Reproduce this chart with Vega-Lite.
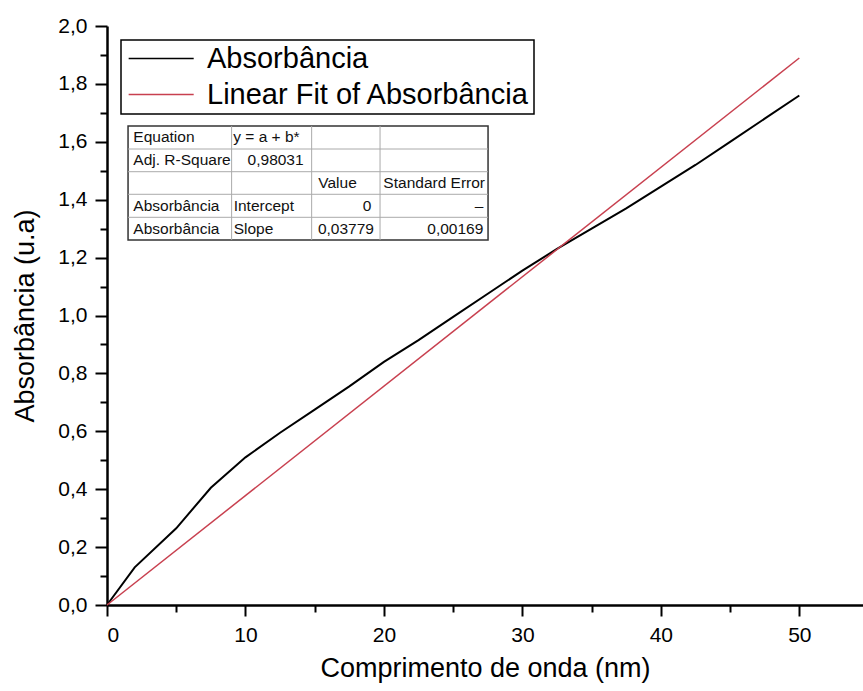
{
  "$schema": "https://vega.github.io/schema/vega-lite/v6.json",
  "width": 756,
  "height": 579,
  "autosize": {"type": "none"},
  "padding": {"left": 107, "top": 26, "right": 0, "bottom": 86},
  "background": "white",
  "config": {
    "view": {"stroke": null},
    "font": "Liberation Sans",
    "text": {"font": "Liberation Sans"},
    "locale": {"number": {"decimal": ",", "thousands": ".", "grouping": [3], "currency": ["", ""]}},
    "axis": {"grid": false, "domainColor": "black", "tickColor": "black", "labelColor": "black", "titleColor": "black", "labelFont": "Liberation Sans", "titleFont": "Liberation Sans", "titleFontWeight": "normal"},
    "legend": {"strokeWidth": 1.5, "labelFont": "Liberation Sans"}
  },
  "resolve": {"axis": {"x": "independent", "y": "independent"}},
  "layer": [
    {
      "data": {"values": [
        {"comprimento": 0, "absorbancia": 0},
        {"comprimento": 2, "absorbancia": 0.13},
        {"comprimento": 5, "absorbancia": 0.265},
        {"comprimento": 7.5, "absorbancia": 0.405},
        {"comprimento": 10, "absorbancia": 0.51},
        {"comprimento": 12.5, "absorbancia": 0.595},
        {"comprimento": 15, "absorbancia": 0.675},
        {"comprimento": 17.5, "absorbancia": 0.755},
        {"comprimento": 20, "absorbancia": 0.84},
        {"comprimento": 22.5, "absorbancia": 0.915},
        {"comprimento": 25, "absorbancia": 0.995},
        {"comprimento": 27.5, "absorbancia": 1.075},
        {"comprimento": 30, "absorbancia": 1.155},
        {"comprimento": 32.5, "absorbancia": 1.23},
        {"comprimento": 35, "absorbancia": 1.3},
        {"comprimento": 37.5, "absorbancia": 1.37},
        {"comprimento": 40, "absorbancia": 1.445},
        {"comprimento": 42.5, "absorbancia": 1.52},
        {"comprimento": 45, "absorbancia": 1.6},
        {"comprimento": 47.5, "absorbancia": 1.68},
        {"comprimento": 50, "absorbancia": 1.76}
      ]},
      "mark": {"type": "line", "strokeWidth": 2},
      "encoding": {
        "x": {"field": "comprimento", "type": "quantitative", "scale": {"domain": [0, 54.6], "nice": false, "zero": true},
          "axis": {"orient": "bottom", "values": [0, 10, 20, 30, 40, 50], "tickSize": 11, "tickWidth": 2, "domainWidth": 2.5, "labelFontSize": 21, "labelPadding": 8, "title": "Comprimento de onda (nm)", "titleFontSize": 27, "titlePadding": 10}},
        "y": {"field": "absorbancia", "type": "quantitative", "scale": {"domain": [0, 2], "nice": false},
          "axis": {"orient": "left", "values": [0, 0.2, 0.4, 0.6, 0.8, 1.0, 1.2, 1.4, 1.6, 1.8, 2.0], "format": ".1f", "tickSize": 12, "tickWidth": 2, "domainWidth": 2.5, "labelFontSize": 21, "labelPadding": 8, "title": "Absorbância (u.a)", "titleFontSize": 27, "titlePadding": 18}},
        "color": {"datum": "Absorbância", "type": "nominal",
          "scale": {"domain": ["Absorbância", "Linear Fit of Absorbância"], "range": ["black", "#c8404f"]},
          "legend": {"orient": "top-left", "offset": 14, "title": null, "labelFontSize": 29, "labelFont": "Liberation Sans", "labelColor": "black", "symbolType": "M-1,0H5", "symbolSize": 470, "symbolStrokeWidth": 1.5, "labelOffset": 53, "padding": 4, "rowPadding": 6, "strokeColor": "black", "fillColor": "white", "symbolFillColor": "transparent", "labelLimit": 600}}
      }
    },
    {
      "data": {"values": [
        {"comprimento": 0, "absorbancia": 0},
        {"comprimento": 50, "absorbancia": 1.8895}
      ]},
      "mark": {"type": "line", "strokeWidth": 1.5},
      "encoding": {
        "x": {"field": "comprimento", "type": "quantitative",
          "axis": {"orient": "bottom", "values": [5, 15, 25, 35, 45], "tickSize": 7, "tickWidth": 2, "domain": false, "labels": false, "title": null}},
        "y": {"field": "absorbancia", "type": "quantitative",
          "axis": {"orient": "left", "values": [0.1, 0.3, 0.5, 0.7, 0.9, 1.1, 1.3, 1.5, 1.7, 1.9], "tickSize": 7, "tickWidth": 2, "domain": false, "labels": false, "title": null}},
        "color": {"datum": "Linear Fit of Absorbância", "type": "nominal"}
      }
    },
    {
      "data": {"values": [{"tabela": "Linear Fit"}]},
      "mark": {"type": "rect", "fill": "white", "stroke": "#333333", "strokeWidth": 1.5},
      "encoding": {"x": {"datum": 1.52, "type": "quantitative", "axis": null}, "x2": {"datum": 27.52}, "y": {"datum": 1.6546, "type": "quantitative", "axis": null}, "y2": {"datum": 1.2608}}
    },
    {"data": {"values": [{"linha": 1}]}, "mark": {"type": "rule", "color": "#aaaaaa", "strokeWidth": 1}, "encoding": {"x": {"datum": 1.52, "type": "quantitative", "axis": null}, "x2": {"datum": 27.52}, "y": {"datum": 1.5751, "type": "quantitative", "axis": null}}},
    {"data": {"values": [{"linha": 2}]}, "mark": {"type": "rule", "color": "#aaaaaa", "strokeWidth": 1}, "encoding": {"x": {"datum": 1.52, "type": "quantitative", "axis": null}, "x2": {"datum": 27.52}, "y": {"datum": 1.4967, "type": "quantitative", "axis": null}}},
    {"data": {"values": [{"linha": 3}]}, "mark": {"type": "rule", "color": "#aaaaaa", "strokeWidth": 1}, "encoding": {"x": {"datum": 1.52, "type": "quantitative", "axis": null}, "x2": {"datum": 27.52}, "y": {"datum": 1.4187, "type": "quantitative", "axis": null}}},
    {"data": {"values": [{"linha": 4}]}, "mark": {"type": "rule", "color": "#aaaaaa", "strokeWidth": 1}, "encoding": {"x": {"datum": 1.52, "type": "quantitative", "axis": null}, "x2": {"datum": 27.52}, "y": {"datum": 1.3392, "type": "quantitative", "axis": null}}},
    {"data": {"values": [{"coluna": 1}]}, "mark": {"type": "rule", "color": "#aaaaaa", "strokeWidth": 1}, "encoding": {"x": {"datum": 9.0, "type": "quantitative", "axis": null}, "y": {"datum": 1.6546, "type": "quantitative", "axis": null}, "y2": {"datum": 1.2608}}},
    {"data": {"values": [{"coluna": 2}]}, "mark": {"type": "rule", "color": "#aaaaaa", "strokeWidth": 1}, "encoding": {"x": {"datum": 14.78, "type": "quantitative", "axis": null}, "y": {"datum": 1.6546, "type": "quantitative", "axis": null}, "y2": {"datum": 1.2608}}},
    {"data": {"values": [{"coluna": 3}]}, "mark": {"type": "rule", "color": "#aaaaaa", "strokeWidth": 1}, "encoding": {"x": {"datum": 19.72, "type": "quantitative", "axis": null}, "y": {"datum": 1.6546, "type": "quantitative", "axis": null}, "y2": {"datum": 1.2608}}},
    {"data": {"values": [{"t": "Equation"}]}, "mark": {"type": "text", "align": "left", "baseline": "middle", "fontSize": 15.5, "color": "#111111"}, "encoding": {"x": {"datum": 1.9, "type": "quantitative", "axis": null}, "y": {"datum": 1.6149, "type": "quantitative", "axis": null}, "text": {"field": "t"}}},
    {"data": {"values": [{"t": "y = a + b*"}]}, "mark": {"type": "text", "align": "left", "baseline": "middle", "fontSize": 15.5, "color": "#111111"}, "encoding": {"x": {"datum": 9.12, "type": "quantitative", "axis": null}, "y": {"datum": 1.6149, "type": "quantitative", "axis": null}, "text": {"field": "t"}}},
    {"data": {"values": [{"t": "Adj. R-Square"}]}, "mark": {"type": "text", "align": "left", "baseline": "middle", "fontSize": 15.5, "color": "#111111"}, "encoding": {"x": {"datum": 1.9, "type": "quantitative", "axis": null}, "y": {"datum": 1.5361, "type": "quantitative", "axis": null}, "text": {"field": "t"}}},
    {"data": {"values": [{"t": "0,98031"}]}, "mark": {"type": "text", "align": "right", "baseline": "middle", "fontSize": 15.5, "color": "#111111"}, "encoding": {"x": {"datum": 14.2, "type": "quantitative", "axis": null}, "y": {"datum": 1.5361, "type": "quantitative", "axis": null}, "text": {"field": "t"}}},
    {"data": {"values": [{"t": "Value"}]}, "mark": {"type": "text", "align": "left", "baseline": "middle", "fontSize": 15.5, "color": "#111111"}, "encoding": {"x": {"datum": 15.26, "type": "quantitative", "axis": null}, "y": {"datum": 1.4577, "type": "quantitative", "axis": null}, "text": {"field": "t"}}},
    {"data": {"values": [{"t": "Standard Error"}]}, "mark": {"type": "text", "align": "left", "baseline": "middle", "fontSize": 15.5, "color": "#111111"}, "encoding": {"x": {"datum": 19.96, "type": "quantitative", "axis": null}, "y": {"datum": 1.4577, "type": "quantitative", "axis": null}, "text": {"field": "t"}}},
    {"data": {"values": [{"t": "Absorbância"}]}, "mark": {"type": "text", "align": "left", "baseline": "middle", "fontSize": 15.5, "color": "#111111"}, "encoding": {"x": {"datum": 1.9, "type": "quantitative", "axis": null}, "y": {"datum": 1.3789, "type": "quantitative", "axis": null}, "text": {"field": "t"}}},
    {"data": {"values": [{"t": "Intercept"}]}, "mark": {"type": "text", "align": "left", "baseline": "middle", "fontSize": 15.5, "color": "#111111"}, "encoding": {"x": {"datum": 9.15, "type": "quantitative", "axis": null}, "y": {"datum": 1.3789, "type": "quantitative", "axis": null}, "text": {"field": "t"}}},
    {"data": {"values": [{"t": "0"}]}, "mark": {"type": "text", "align": "right", "baseline": "middle", "fontSize": 15.5, "color": "#111111"}, "encoding": {"x": {"datum": 19.1, "type": "quantitative", "axis": null}, "y": {"datum": 1.3789, "type": "quantitative", "axis": null}, "text": {"field": "t"}}},
    {"data": {"values": [{"t": "–"}]}, "mark": {"type": "text", "align": "right", "baseline": "middle", "fontSize": 15.5, "color": "#111111"}, "encoding": {"x": {"datum": 27.18, "type": "quantitative", "axis": null}, "y": {"datum": 1.3789, "type": "quantitative", "axis": null}, "text": {"field": "t"}}},
    {"data": {"values": [{"t": "Absorbância"}]}, "mark": {"type": "text", "align": "left", "baseline": "middle", "fontSize": 15.5, "color": "#111111"}, "encoding": {"x": {"datum": 1.9, "type": "quantitative", "axis": null}, "y": {"datum": 1.2998, "type": "quantitative", "axis": null}, "text": {"field": "t"}}},
    {"data": {"values": [{"t": "Slope"}]}, "mark": {"type": "text", "align": "left", "baseline": "middle", "fontSize": 15.5, "color": "#111111"}, "encoding": {"x": {"datum": 9.15, "type": "quantitative", "axis": null}, "y": {"datum": 1.2998, "type": "quantitative", "axis": null}, "text": {"field": "t"}}},
    {"data": {"values": [{"t": "0,03779"}]}, "mark": {"type": "text", "align": "right", "baseline": "middle", "fontSize": 15.5, "color": "#111111"}, "encoding": {"x": {"datum": 19.28, "type": "quantitative", "axis": null}, "y": {"datum": 1.2998, "type": "quantitative", "axis": null}, "text": {"field": "t"}}},
    {"data": {"values": [{"t": "0,00169"}]}, "mark": {"type": "text", "align": "right", "baseline": "middle", "fontSize": 15.5, "color": "#111111"}, "encoding": {"x": {"datum": 27.18, "type": "quantitative", "axis": null}, "y": {"datum": 1.2998, "type": "quantitative", "axis": null}, "text": {"field": "t"}}}
  ]
}
